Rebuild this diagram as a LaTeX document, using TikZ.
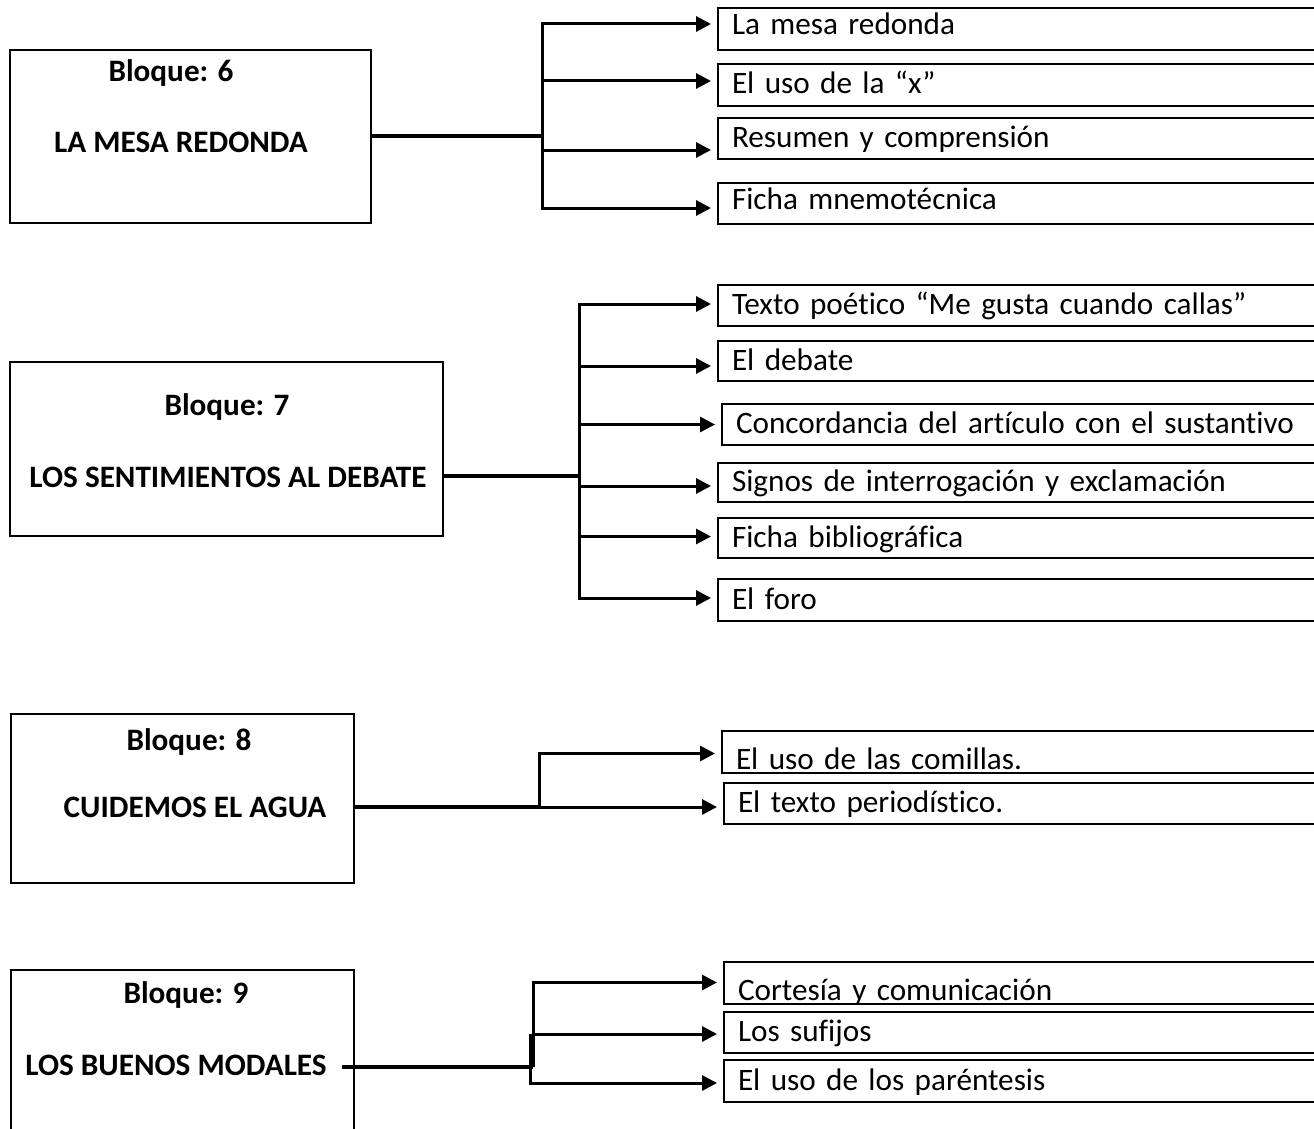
\documentclass[tikz,border=0pt]{standalone}
\usepackage{fontspec}
\setmainfont{Carlito}[Ligatures=NoCommon]
\usetikzlibrary{arrows.meta,positioning}

\begin{document}
\begin{tikzpicture}[
    x=1pt, y=-1pt,
    every node/.style={font=\fontsize{31.2}{38}\selectfont},
    caja/.style={draw, line width=2pt, rectangle, anchor=north west, inner sep=0pt},
    titulo/.style={anchor=base, inner sep=0pt, font=\fontsize{31.2}{38}\selectfont\bfseries},
    tema/.style={draw, line width=2pt, rectangle, anchor=north west, text width=612pt, align=left,
        inner xsep=14pt, inner ysep=0pt, minimum height=41pt, text height=22pt, text depth=4pt},
    baja/.style={text height=38pt},
    alta/.style={text height=15pt},
    flecha/.style={-{Triangle[length=15pt, width=15pt]}, line width=3pt, shorten >=6pt},
    tronco/.style={line width=4pt}
]
\useasboundingbox (0,0) rectangle (1314,1129);
\clip (0,0) rectangle (1314,1129);

% Bloque 6
\node[caja, minimum width=361pt, minimum height=173pt] (b6) at (9,49) {};
\node[titulo] (n61) at (171,82) {Bloque: 6};
\node[titulo] (n62) at (181,153) {LA MESA REDONDA};
\node[tema, alta, minimum height=42pt] (t61) at (717,7) {La mesa redonda};
\node[tema, minimum height=42pt] (t62) at (717,63) {El uso de la “x”};
\node[tema] (t63) at (717,117) {Resumen y comprensión};
\node[tema, alta] (t64) at (717,182) {Ficha mnemotécnica};

% Bloque 7
\node[caja, minimum width=433pt, minimum height=174pt] (b7) at (9,361) {};
\node[titulo] (n71) at (227,415) {Bloque: 7};
\node[titulo] (n72) at (228,487) {LOS SENTIMIENTOS AL DEBATE};
\node[tema] (t71) at (717,284) {Texto poético “Me gusta cuando callas”};
\node[tema, minimum height=40pt] (t72) at (717,340) {El debate};
\node[tema] (t73) at (721,403) {Concordancia del artículo con el sustantivo};
\node[tema, minimum height=39pt] (t74) at (717,462) {Signos de interrogación y exclamación};
\node[tema, minimum height=40pt] (t75) at (717,517) {Ficha bibliográfica};
\node[tema, minimum height=42pt] (t76) at (717,578) {El foro};

% Bloque 8
\node[caja, minimum width=343pt, minimum height=169pt] (b8) at (10,713) {};
\node[titulo] (n81) at (189,750) {Bloque: 8};
\node[titulo] (n82) at (195,817) {CUIDEMOS EL AGUA};
\node[tema, baja] (t81) at (721,730) {El uso de las comillas.};
\node[tema] (t82) at (723,782) {El texto periodístico.};

% Bloque 9
\node[caja, minimum width=343pt, minimum height=200pt] (b9) at (10,969) {};
\node[titulo] (n91) at (186,1003) {Bloque: 9};
\node[titulo] (n92) at (176,1075) {LOS BUENOS MODALES};
\node[tema, baja] (t91) at (723,961) {Cortesía y comunicación};
\node[tema] (t92) at (723,1011) {Los sufijos};
\node[tema, minimum height=42pt] (t93) at (723,1059) {El uso de los paréntesis};

\draw[tronco] (b6.east) -- ++(170,0) coordinate (h6);
\draw[flecha] (h6) |- ([yshift=5pt]t61.west);
\draw[flecha] (h6) |- ([yshift=4pt]t62.west);
\draw[flecha] (h6) |- ([yshift=-11.5pt]t63.west);
\draw[flecha] (h6) |- ([yshift=-4.5pt]t64.west);

\draw[tronco] ([yshift=-27pt]b7.east) -- ++(135,0) coordinate (h7);
\draw[flecha] (h7) |- ([yshift=1.5pt]t71.west);
\draw[flecha] (h7) |- ([yshift=-5pt]t72.west);
\draw[flecha] (h7) |- (t73.west);
\draw[flecha] (h7) |- ([yshift=-3.5pt]t74.west);
\draw[flecha] (h7) |- ([yshift=1.5pt]t75.west);
\draw[flecha] (h7) |- ([yshift=2pt]t76.west);

\draw[tronco] ([yshift=-8.5pt]b8.east) -- ++(184,0) coordinate (h8);
\draw[flecha] (h8) |- ([yshift=-1.5pt]t81.west);
\draw[flecha] (h8) -- ([yshift=-3.5pt]t82.west);

\draw[tronco] ([xshift=-13pt,yshift=3pt]b9.east) -- ++(191,0) coordinate (h9);
\draw[flecha] (h9) |- ([yshift=0.5pt]t91.west);
\draw[flecha] (h9) |- coordinate[pos=0.5] (h9m) ([yshift=-1.5pt]t92.west);
\draw[flecha] ([xshift=-3pt]h9m) |- ([yshift=-2pt]t93.west);
\end{tikzpicture}
\end{document}
